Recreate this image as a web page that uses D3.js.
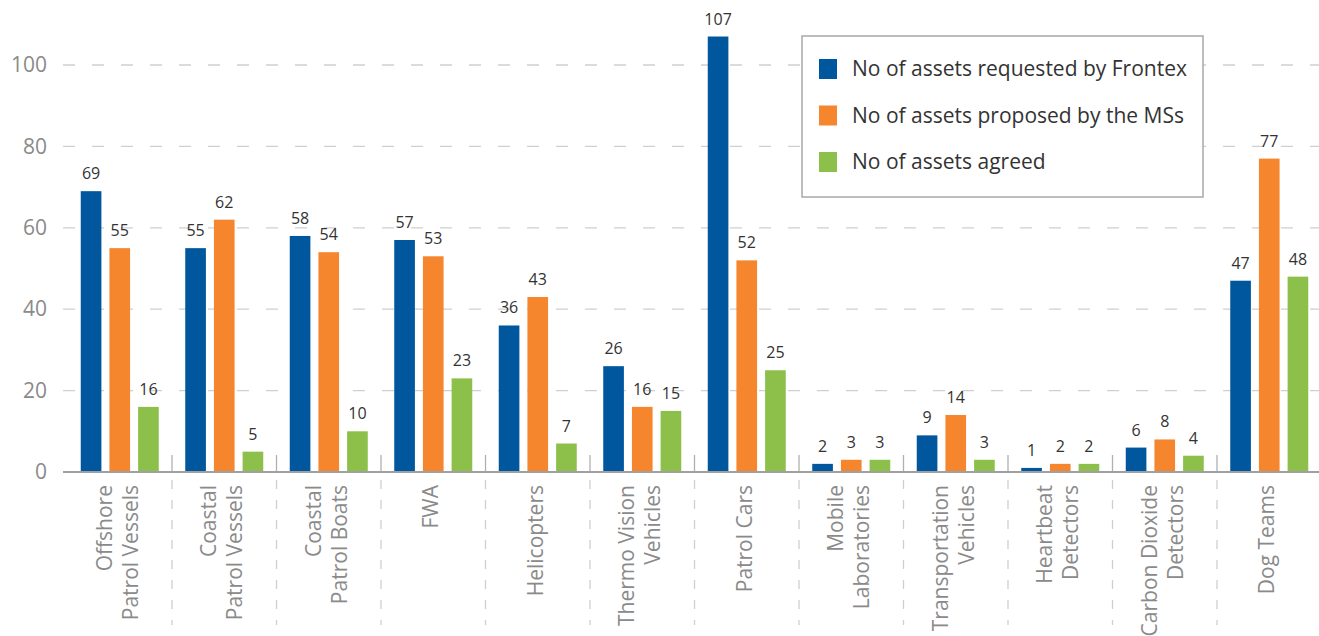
<!DOCTYPE html>
<html>
<head>
<meta charset="utf-8">
<script src="https://cdn.jsdelivr.net/npm/d3@7"></script>
<style>
  html, body { margin: 0; padding: 0; background: #fff; }
  svg { display: block; font-family: "Open Sans", "Noto Sans", sans-serif; }
</style>
</head>
<body>
<svg id="chart" width="1319" height="636"></svg>
<script>
const categories = [
  ["Offshore", "Patrol Vessels"],
  ["Coastal", "Patrol Vessels"],
  ["Coastal", "Patrol Boats"],
  ["FWA"],
  ["Helicopters"],
  ["Thermo Vision", "Vehicles"],
  ["Patrol Cars"],
  ["Mobile", "Laboratories"],
  ["Transportation", "Vehicles"],
  ["Heartbeat", "Detectors"],
  ["Carbon Dioxide", "Detectors"],
  ["Dog Teams"]
];
const seriesNames = [
  "No of assets requested by Frontex",
  "No of assets proposed by the MSs",
  "No of assets agreed"
];
const requested = [69, 55, 58, 57, 36, 26, 107, 2, 9, 1, 6, 47];
const proposed  = [55, 62, 54, 53, 43, 16, 52, 3, 14, 2, 8, 77];
const agreed    = [16, 5, 10, 23, 7, 15, 25, 3, 3, 2, 4, 48];
const yTicks = [0, 20, 40, 60, 80, 100];
const colors = ["#01579e", "#f5862d", "#8cc04b"];

const seriesValues = [requested, proposed, agreed];
const svg = d3.select("#chart");

const x0 = d3.scaleBand().domain(d3.range(categories.length)).range([67.5, 1321.5]).paddingInner(0).paddingOuter(0);
const bw = x0.bandwidth();
const x1 = d3.scaleBand().domain(d3.range(3)).range([bw / 2 - 39, bw / 2 + 39]).paddingInner(0.28);
const y = d3.scaleLinear().domain([0, 100]).range([472, 65]);

// Grid lines
const yAxis = d3.axisLeft(y).tickValues(yTicks).tickSize(0).tickPadding(16);
const gy = svg.append("g").attr("transform", "translate(63,0)").call(yAxis);
gy.select(".domain").remove();
gy.selectAll("text").attr("font-size", 21).attr("fill", "#8a8a8a").attr("font-family", "\"Open Sans\", sans-serif");
svg.append("g").selectAll("line").data(yTicks.filter(d => d > 0)).join("line")
  .attr("x1", 63).attr("x2", 1319)
  .attr("y1", d => y(d)).attr("y2", d => y(d))
  .attr("stroke", "#cfcfcf").attr("stroke-width", 1.3).attr("stroke-dasharray", "12,17");

// Separators
const seps = d3.range(1, categories.length).map(i => x0(i));
svg.append("g").selectAll("line").data(seps).join("line")
  .attr("x1", d => d).attr("x2", d => d).attr("y1", 455).attr("y2", 472)
  .attr("stroke", "#b0b0b0").attr("stroke-width", 1.3);
svg.append("g").selectAll("line").data(seps).join("line")
  .attr("x1", d => d).attr("x2", d => d).attr("y1", 480).attr("y2", 625)
  .attr("stroke", "#cfcfcf").attr("stroke-width", 1.3).attr("stroke-dasharray", "9,11");

// Bars
const groups = svg.append("g").selectAll("g").data(categories).join("g")
  .attr("transform", (d, i) => `translate(${x0(i)},0)`);
groups.each(function(d, i) {
  const g = d3.select(this);
  const vals = seriesValues.map((s, k) => ({k, v: s[i]}));
  g.selectAll("rect").data(vals).join("rect")
    .attr("x", e => x1(e.k)).attr("width", x1.bandwidth())
    .attr("y", e => y(e.v)).attr("height", e => y(0) - y(e.v))
    .attr("fill", e => colors[e.k]);
  g.selectAll("text.val").data(vals).join("text").attr("class", "val")
    .attr("x", e => x1(e.k) + x1.bandwidth() / 2).attr("y", e => y(e.v) - 12)
    .attr("text-anchor", "middle").attr("font-size", 16).attr("fill", "#333")
    .text(e => e.v);
});

// X axis line
svg.append("line").attr("x1", 63).attr("x2", 1319).attr("y1", 472).attr("y2", 472)
  .attr("stroke", "#a0a0a0").attr("stroke-width", 2);

// X labels
const lineGap = 26;
groups.each(function(d, i) {
  const g = d3.select(this);
  const n = d.length;
  d.forEach((line, j) => {
    const cx = bw / 2 - 2.5 + (j - (n - 1) / 2) * lineGap;
    g.append("text")
      .attr("transform", `translate(${cx},485) rotate(-90)`)
      .attr("text-anchor", "end").attr("dy", "0.35em")
      .attr("font-size", 21).attr("fill", "#8a8a8a")
      .text(line);
  });
});

// Legend
const lg = svg.append("g");
lg.append("rect").attr("x", 802).attr("y", 36).attr("width", 401).attr("height", 161)
  .attr("fill", "#fff").attr("stroke", "#a8a8a8").attr("stroke-width", 1.5);
seriesNames.forEach((name, k) => {
  const yy = 59 + k * 46.5;
  lg.append("rect").attr("x", 819).attr("y", yy).attr("width", 18).attr("height", 20).attr("fill", colors[k]);
  lg.append("text").attr("x", 852).attr("y", yy + 10).attr("dy", "0.35em")
    .attr("font-size", 21).attr("fill", "#333").text(name);
});
</script>
</body>
</html>
